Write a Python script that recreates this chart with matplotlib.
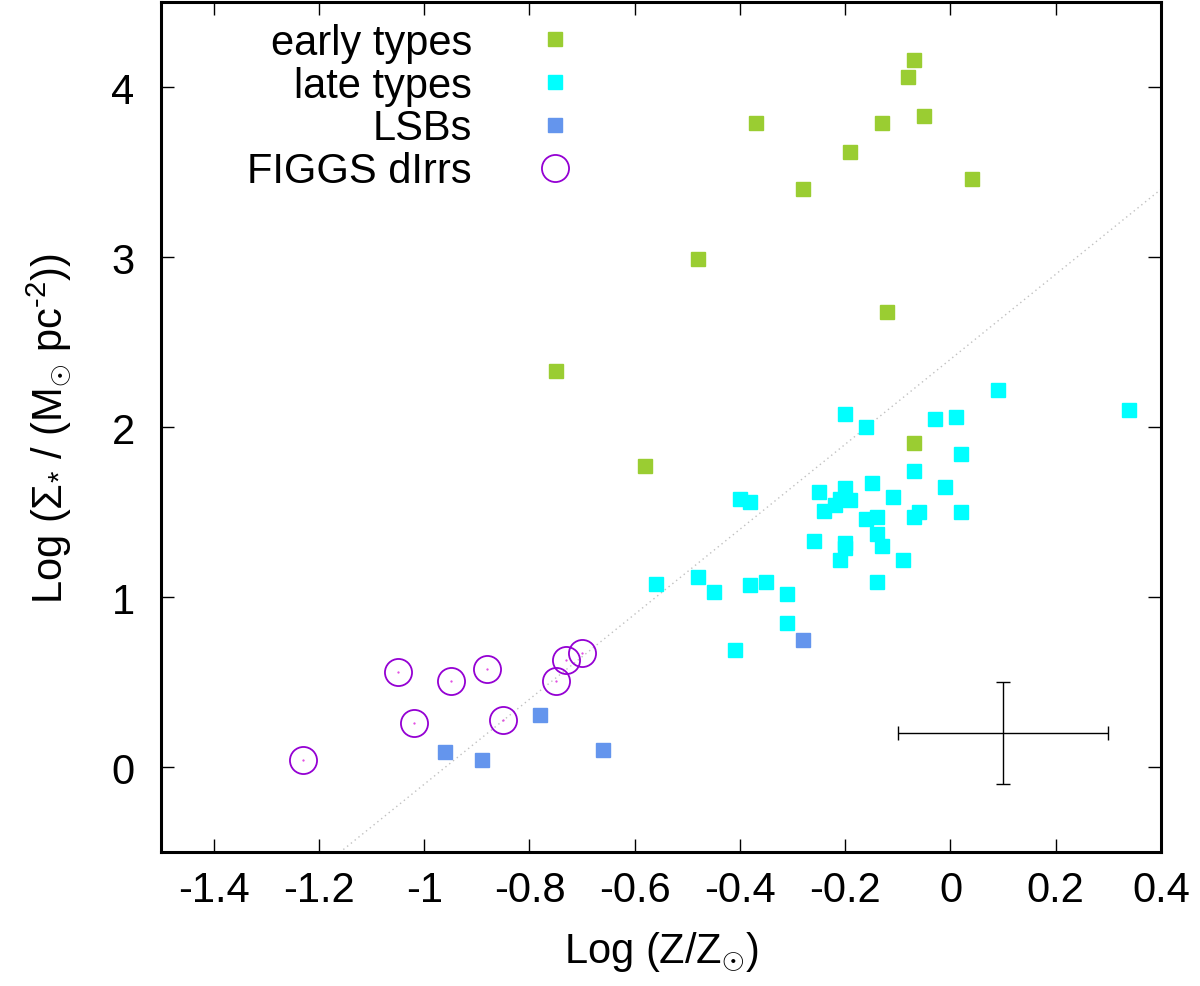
import matplotlib
matplotlib.use("Agg")
import matplotlib.pyplot as plt
from matplotlib.ticker import FuncFormatter, MultipleLocator

# early type galaxies
early_x = [-0.07, -0.08, -0.37, -0.13, -0.05, -0.19, 0.04, -0.28, -0.48, -0.12, -0.75, -0.58, -0.07]
early_y = [4.16, 4.06, 3.79, 3.79, 3.83, 3.62, 3.46, 3.40, 2.99, 2.68, 2.33, 1.77, 1.91]

# late type galaxies
late_x = [0.09, 0.34, -0.20, -0.16, -0.03, 0.01, 0.02, -0.07, -0.01, 0.02,
          -0.15, -0.11, -0.25, -0.20, -0.19, -0.21, -0.22, -0.24, -0.16, -0.14,
          -0.06, -0.07, -0.26, -0.20, -0.20, -0.14, -0.13, -0.21, -0.09, -0.14,
          -0.40, -0.38, -0.56, -0.48, -0.45, -0.38, -0.35, -0.31, -0.31, -0.41]
late_y = [2.22, 2.10, 2.08, 2.00, 2.05, 2.06, 1.84, 1.74, 1.65, 1.50,
          1.67, 1.59, 1.62, 1.64, 1.57, 1.58, 1.54, 1.51, 1.46, 1.47,
          1.50, 1.47, 1.33, 1.32, 1.29, 1.37, 1.30, 1.22, 1.22, 1.09,
          1.58, 1.56, 1.08, 1.12, 1.03, 1.07, 1.09, 1.02, 0.85, 0.69]

# low surface brightness galaxies
lsb_x = [-0.96, -0.89, -0.78, -0.66, -0.28]
lsb_y = [0.09, 0.04, 0.31, 0.10, 0.75]

# FIGGS dwarf irregulars
figgs_x = [-1.23, -1.05, -1.02, -0.95, -0.88, -0.85, -0.75, -0.73, -0.70]
figgs_y = [0.04, 0.56, 0.26, 0.51, 0.58, 0.28, 0.51, 0.63, 0.67]

# typical error bar
err_x = [0.1]
err_y = [0.2]
err_dx = [0.2]
err_dy = [0.3]

# dotted relation
fit_x = [-1.5, 0.4]
fit_y = [-1.35, 3.4]

plt.rcParams['font.family'] = ['Liberation Sans', 'DejaVu Sans']
plt.rcParams['mathtext.fontset'] = 'custom'
plt.rcParams['mathtext.rm'] = 'Liberation Sans'
plt.rcParams['mathtext.it'] = 'Liberation Sans:italic'
plt.rcParams['mathtext.bf'] = 'Liberation Sans:bold'

fs = 30

fig = plt.figure(figsize=(12, 9.87), dpi=100)
ax = fig.add_axes([0.1342, 0.1355, 0.8333, 0.8612])

ax.plot(fit_x, fit_y, color='#c0c0c0', lw=1.0, ls=(0, (1, 2.5)), zorder=1)

ax.plot(early_x, early_y, 's', color='#9acd32', ms=10, ls='none', label='early types', zorder=3)
ax.plot(late_x, late_y, 's', color='#00ffff', ms=10, ls='none', label='late types', zorder=3)
ax.plot(lsb_x, lsb_y, 's', color='#6495ed', ms=10, ls='none', label='LSBs', zorder=3)
ax.plot(figgs_x, figgs_y, 'o', mfc='none', mec='#9400d3', mew=1.3, ms=19.5, ls='none',
        label='FIGGS dIrrs', zorder=4)
ax.plot(figgs_x, figgs_y, '.', color='#e040e0', ms=1.2, ls='none', zorder=4)

ax.errorbar(err_x, err_y, xerr=err_dx, yerr=err_dy, fmt='none', ecolor='black',
            elinewidth=1.0, capsize=5, capthick=1.0, zorder=2)

ax.set_xlim(-1.5, 0.4)
ax.set_ylim(-0.5, 4.5)
ax.xaxis.set_major_locator(MultipleLocator(0.2))
ax.yaxis.set_major_locator(MultipleLocator(1))
ax.xaxis.set_major_formatter(FuncFormatter(lambda v, p: '%g' % round(v, 2)))
ax.yaxis.set_major_formatter(FuncFormatter(lambda v, p: '%g' % round(v, 2)))

ax.tick_params(direction='in', length=9.5, width=1.0, top=True, right=True,
               labelsize=fs, color='black')
ax.tick_params(axis='x', pad=13)
ax.tick_params(axis='y', pad=19)
for sp in ax.spines.values():
    sp.set_linewidth(2.2)

ax.set_xlabel(r'Log (Z/Z$_{\odot}$)', fontsize=fs, labelpad=14)
ax.set_ylabel('Log ($\\mathrm{\\Sigma}_{*}$ / (M$_{\\odot}$ pc$^{\u2010 2}$))',
              fontsize=fs, labelpad=28)

leg = ax.legend(loc='upper right', bbox_to_anchor=(0.415, 0.976), frameon=False,
                markerfirst=False, numpoints=1, fontsize=fs, handlelength=1.0,
                handletextpad=1.5, labelspacing=0.07, borderpad=0, borderaxespad=0)

fig.savefig('out.png', dpi=100)
